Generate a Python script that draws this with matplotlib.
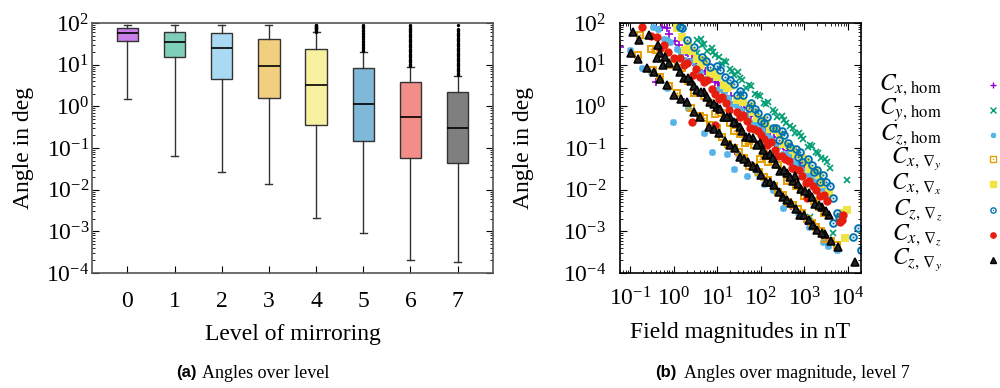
import numpy as np
import matplotlib
matplotlib.use('Agg')
import matplotlib.pyplot as plt
from matplotlib.lines import Line2D
from matplotlib.ticker import LogLocator, NullFormatter

plt.rcParams['font.family'] = 'serif'
plt.rcParams['font.serif'] = ['Liberation Serif', 'DejaVu Serif']
plt.rcParams['mathtext.fontset'] = 'stix'
plt.rcParams['font.size'] = 17

# (a) box statistics per level of mirroring
levels = [0, 1, 2, 3, 4, 5, 6, 7]
q1 = [37.6, 15.5, 4.6, 1.56, 0.36, 0.145, 0.056, 0.043]
med = [58.6, 35.6, 25.6, 9.1, 3.25, 1.16, 0.545, 0.31]
q3 = [77, 62, 56.5, 40.6, 24.2, 8.3, 3.77, 2.2]
whis_lo = [1.48, 0.064, 0.026, 0.0138, 0.00213, 0.00093, 0.0002, 0.00018]
whis_hi = [90, 90, 90, 90, 60, 20.5, 8.95, 5.45]
fliers = [
    [], [], [], [],
    [62, 64, 66, 68, 70, 72, 74, 76, 78, 80, 82, 84, 86, 88, 90],
    [21, 23, 25, 27, 29, 32, 35, 38, 41, 45, 49, 53, 58, 63, 68, 74, 80, 86, 90],
    [9.2, 9.9, 10.6, 11.4, 12.2, 13.1, 14, 15, 16.1, 17.3, 18.5, 19.8, 21.2, 22.7,
     24.3, 26, 27.9, 29.9, 32, 34.3, 36.7, 39.3, 42.1, 45.1, 48.3, 51.7, 55.4,
     59.3, 63.5, 68, 72.8, 78, 83.5, 89.4],
    [5.6, 6.0, 6.4, 6.9, 7.4, 7.9, 8.5, 9.1, 9.7, 10.4, 11.2, 12, 12.8, 13.7, 14.7,
     15.8, 16.9, 18.1, 19.4, 20.8, 22.3, 23.9, 25.6, 27.4, 29.4, 31.5, 33.7, 36.1,
     38.7, 41.5, 44.5, 47.7, 51.1, 54.7, 58.6, 62.8, 67.3, 72, 88],
]
box_colors = ['#c97fe9', '#7fceb9', '#aad9f4', '#f2cf7f', '#f7f1a0', '#7fb8d8', '#f28e87', '#7f7f7f']

# (b) angles over field magnitude, level 7
cxhom_b = [0.7, 0.8, 1.1, 1.6, 2.2, 3.2, 4.5, 6.3, 9, 12.5, 18, 25, 35, 50, 70, 100, 160, 250,
           400, 630, 1000, 1600, 0.058, 0.4, 4, 16, 63, 200, 500, 1250, 2200, 3200,
           0.55, 1.3, 1.9, 2.7, 3.8, 5.4, 7.5, 10.5, 15, 21, 30, 42, 60, 85, 130, 200, 320,
           500, 800, 1250, 1.5, 8, 30, 120, 330, 800]
cxhom_a = [75, 56, 36, 22, 19, 9.9, 8.5, 7.2, 3.9, 3.2, 2.8, 1.3, 1.14, 0.71, 0.6, 0.32, 0.24,
           0.113, 0.089, 0.04, 0.032, 0.014, 26, 3.8, 0.56, 0.126, 0.04, 0.0112, 0.004, 0.0015,
           0.00091, 0.00056,
           80, 30, 20, 14, 10.5, 7, 5, 3.6, 2.5, 1.8, 1.25, 0.9, 0.63, 0.45, 0.28, 0.18, 0.11,
           0.07, 0.043, 0.027, 1.5, 0.27, 0.07, 0.018, 0.0065, 0.0026]

cyhom_b = [3.4, 3.5, 4.2, 5, 6, 7.5, 9, 11, 13, 16, 20, 25, 30, 38, 47, 60, 75, 95, 120, 150,
           190, 240, 300, 380, 480, 600, 760, 950, 1200, 1500, 1900, 2400, 3000, 3800, 9500,
           1350, 4600,
           4.6, 8, 14, 22, 34, 53, 85, 135, 210, 340, 540, 850, 1350, 2100, 3400]
cyhom_a = [19, 40, 42, 32, 21, 25, 16.8, 15.1, 10.1, 11.4, 7.9, 5.6, 6.7, 4.2, 2.7, 3.0, 2.0,
           1.75, 1.18, 1.27, 0.83, 0.55, 0.58, 0.4, 0.33, 0.235, 0.234, 0.167, 0.105, 0.11,
           0.08, 0.059, 0.053, 0.033, 0.0167, 0.0022, 0.0009,
           30, 20, 12, 7.2, 4.8, 3.2, 1.9, 1.15, 0.75, 0.46, 0.3, 0.19, 0.12, 0.075, 0.045]

czhom_b = [0.33, 0.45, 0.6, 0.85, 1.2, 1.8, 2.6, 4, 6, 9, 14, 22, 35, 55, 85, 130, 200, 320,
           500, 800, 1250, 2000, 3200, 0.1, 0.19, 0.3, 0.7, 0.95, 2.2, 5.1, 7.5, 16.6, 24, 30,
           48, 80, 120, 190, 320, 400, 700, 1300, 2700, 3500, 5600,
           0.7, 1.5, 3.2, 11, 18, 28, 45, 70, 105, 165, 250, 400, 640, 1000, 1600, 2500]
czhom_a = [79, 70, 42, 35, 23.5, 13.3, 12.2, 6.6, 4.8, 2.5, 2.16, 1.14, 0.8, 0.44, 0.37, 0.2,
           0.14, 0.072, 0.06, 0.031, 0.022, 0.0112, 0.0062, 22, 8.3, 6.5, 2.75, 0.42, 0.9, 0.23,
           0.08, 0.072, 0.031, 0.07, 0.021, 0.025, 0.014, 0.01, 0.0036, 0.0049, 0.0028, 0.0013,
           0.00055, 0.00045, 0.00035,
           40, 19, 9, 2.6, 1.6, 1.0, 0.62, 0.4, 0.27, 0.17, 0.11, 0.07, 0.044, 0.028, 0.017, 0.011]

cxgy_b = [0.17, 0.3, 0.55, 1.6, 3, 5, 9, 15, 25, 43, 70, 95, 150, 245, 400, 650, 1000, 1700,
          2800, 0.15, 0.33, 1.23, 2.5, 5, 9.8, 18, 32, 55, 90, 150, 250, 420, 700, 1150, 1900,
          3000, 5600,
          0.4, 0.9, 2.2, 7, 12, 20, 34, 55, 120, 190, 300, 520, 820, 1300, 2200,
          0.5, 0.8, 4, 7, 13, 24, 42, 70, 120, 200, 330, 550, 900, 1500, 2400, 4200]
cxgy_a = [51, 23.6, 18, 8.3, 2.1, 1.78, 0.67, 0.53, 0.26, 0.13, 0.119, 0.053, 0.047, 0.039,
          0.0158, 0.0122, 0.0071, 0.0052, 0.0028, 17, 7.4, 2.1, 0.9, 0.53, 0.3, 0.124, 0.079,
          0.036, 0.027, 0.0175, 0.009, 0.005, 0.0034, 0.00195, 0.0013, 0.00067, 0.00047,
          22, 10, 4, 1.2, 0.7, 0.4, 0.22, 0.15, 0.07, 0.045, 0.028, 0.016, 0.01, 0.0062, 0.0038,
          5, 3.1, 0.6, 0.35, 0.18, 0.1, 0.058, 0.035, 0.02, 0.012, 0.0075, 0.0044, 0.0027,
          0.0016, 0.001, 0.0006]

cxgx_b = [1.2, 1.55, 1.8, 2.6, 3.5, 5, 7, 10, 14, 20, 28, 40, 56, 80, 110, 160, 220, 320, 450,
          640, 900, 1300, 1800, 2600, 3700, 6600, 7800, 9500, 8500,
          2.2, 4.2, 8.5, 17, 34, 68, 135, 270, 540, 1100, 2200]
cxgx_a = [76, 46, 22, 21.6, 13.7, 12.6, 6, 5.2, 3.2, 3.0, 1.42, 1.25, 1.0, 0.52, 0.48, 0.29,
          0.27, 0.124, 0.111, 0.07, 0.058, 0.031, 0.028, 0.0136, 0.0085, 0.0021, 0.00275,
          0.0033, 0.0007,
          30, 10, 6.5, 2.8, 1.5, 0.75, 0.38, 0.2, 0.09, 0.045, 0.022]

czgz_b = [1.37, 1.6, 3.0, 4.4, 7, 10, 11.4, 19.4, 25, 28, 40, 55, 60, 75, 100, 120, 140, 190,
          260, 300, 350, 480, 650, 700, 900, 1200, 1700, 2000, 2300, 3200, 4500, 5600, 6300,
          4600, 17000, 13000, 20000,
          2, 5.5, 15, 33, 85, 220, 420, 800, 1500, 2700, 3800]
czgz_a = [80, 76, 26.5, 15.3, 8.6, 9.5, 7.4, 4.3, 3.5, 1.9, 1.9, 0.91, 1.2, 0.88, 0.45, 0.4,
          0.57, 0.3, 0.153, 0.25, 0.2, 0.104, 0.093, 0.06, 0.046, 0.053, 0.026, 0.03, 0.0154,
          0.0157, 0.0063, 0.0028, 0.0022, 0.0016, 0.0012, 0.00074, 0.00036,
          40, 12, 5, 2.3, 0.7, 0.3, 0.13, 0.08, 0.04, 0.022, 0.012]

cxgz_b = [0.19, 0.3, 0.41, 0.48, 0.73, 1.05, 1.37, 2, 2.8, 3.3, 4, 6, 9, 11, 13, 19, 28, 40,
          48, 58, 85, 120, 140, 170, 250, 360, 440, 520, 750, 1100, 1300, 1600, 2300, 2800,
          3300, 1150, 6600, 7200, 7800, 2.6, 8.8,
          0.6, 1.7, 5, 7.5, 16, 34, 70, 100, 210, 300, 620, 900, 1900]
cxgz_a = [80, 50, 46, 25, 20, 14.4, 14.4, 11.2, 5.7, 8, 5.0, 4.4, 2.0, 1.5, 1.72, 0.83, 0.75,
          0.63, 0.45, 0.31, 0.26, 0.16, 0.12, 0.14, 0.066, 0.055, 0.05, 0.034, 0.03, 0.0144,
          0.016, 0.0125, 0.0072, 0.0075, 0.0054, 0.0063, 0.00166, 0.0019, 0.0024, 0.42, 0.35,
          30, 10, 3.8, 2.6, 1.2, 0.55, 0.28, 0.2, 0.09, 0.065, 0.032, 0.021, 0.0098]

czgy_b = [0.115, 0.165, 0.28, 0.43, 0.48, 0.41, 0.56, 0.8, 1.2, 1.7, 2.5, 3, 3.5, 5, 7, 9.7,
          14, 20, 27, 33, 45, 65, 95, 130, 160, 190, 280, 400, 550, 600, 850, 1250, 1500, 1800,
          2600, 3700, 0.108, 0.24, 1.0, 1.5, 2, 4, 6.5, 11, 19.4, 26, 33, 52, 80, 130, 160, 200,
          320, 500, 800, 1000, 1300, 2000, 3000, 5900, 14500,
          0.65, 1.4, 2.1, 4.2, 6, 8.3, 11.5, 17, 24, 38, 55, 80, 110, 230, 340, 480, 720, 1050,
          2200, 3100,
          0.15, 0.35, 0.5, 0.7, 3, 8.5, 15, 42, 65, 100, 260, 400, 650, 1600, 2500, 4000]
czgy_a = [60, 39, 52, 30, 19, 14.4, 9.8, 11.1, 9.4, 4.7, 4.0, 3.0, 2.4, 2.2, 1.27, 0.96, 0.57,
          0.56, 0.4, 0.32, 0.185, 0.17, 0.13, 0.069, 0.07, 0.059, 0.028, 0.025, 0.016, 0.021,
          0.0105, 0.0084, 0.0065, 0.0046, 0.0038, 0.0024, 19, 8.3, 1.9, 1.5, 1.27, 0.55, 0.32,
          0.23, 0.118, 0.1, 0.06, 0.046, 0.033, 0.0153, 0.015, 0.0126, 0.0067, 0.0048, 0.0025,
          0.0024, 0.0019, 0.0011, 0.00088, 0.00042, 0.00018,
          15, 6.5, 4.8, 2.2, 1.7, 1.15, 0.85, 0.55, 0.42, 0.26, 0.18, 0.12, 0.09, 0.042, 0.029,
          0.02, 0.014, 0.0095, 0.0044, 0.003,
          14, 6.5, 4.5, 3.2, 0.75, 0.28, 0.15, 0.055, 0.036, 0.023, 0.009, 0.0058, 0.0035,
          0.0014, 0.0009, 0.00058]

series_labels = [r'$C_{x,\,\mathrm{hom}}$', r'$C_{y,\,\mathrm{hom}}$', r'$C_{z,\,\mathrm{hom}}$',
                 r'$C_{x,\,\nabla_y}$', r'$C_{x,\,\nabla_x}$', r'$C_{z,\,\nabla_z}$',
                 r'$C_{x,\,\nabla_z}$', r'$C_{z,\,\nabla_y}$']
series_data = [(cxhom_b, cxhom_a), (cyhom_b, cyhom_a), (czhom_b, czhom_a), (cxgy_b, cxgy_a),
               (cxgx_b, cxgx_a), (czgz_b, czgz_a), (cxgz_b, cxgz_a), (czgy_b, czgy_a)]
# marker style per series (gnuplot-like point types)
styles = [
    dict(marker='+', color='#9400d3', mew=1.2, ms=5.5, center=False),
    dict(marker='x', color='#009e73', mew=1.2, ms=4.8, center=False),
    dict(marker=(8, 2, 0), color='#56b4e9', mew=1.2, ms=5, center=False),
    dict(marker='s', color='#e69f00', mew=1.4, ms=4.8, mfc='none', center=True),
    dict(marker='s', color='#f0e442', mew=0, ms=5.3, center=False),
    dict(marker='o', color='#0072b2', mew=1.4, ms=4.8, mfc='none', center=True),
    dict(marker='o', color='#e51e10', mew=0, ms=6, center=False),
    dict(marker='^', color='black', mew=1.1, ms=5.5, mfc='#222222', center=False),
]

fig = plt.figure(figsize=(10, 3.88), dpi=100)
ax1 = fig.add_axes([0.092, 0.2964, 0.401, 0.6443])
ax2 = fig.add_axes([0.620, 0.2964, 0.241, 0.6443])

# ---- (a) box plot
stats = []
for i in range(len(levels)):
    stats.append(dict(med=med[i], q1=q1[i], q3=q3[i], whislo=whis_lo[i],
                      whishi=whis_hi[i], fliers=fliers[i]))
bp = ax1.bxp(stats, positions=levels, widths=0.45, capwidths=0.15, patch_artist=True,
             boxprops=dict(edgecolor='#333333', linewidth=1.0),
             medianprops=dict(color='black', linewidth=1.2),
             whiskerprops=dict(color='#333333', linewidth=1.0),
             capprops=dict(color='#333333', linewidth=1.0),
             flierprops=dict(marker='o', markersize=2.4, markerfacecolor='black',
                             markeredgecolor='black', markeredgewidth=0))
for patch, c in zip(bp['boxes'], box_colors):
    patch.set_facecolor(c)

ax1.set_yscale('log')
ax1.set_ylim(1e-4, 1e2)
ax1.set_xlim(-0.75, 7.75)
ax1.set_xticks(levels)
ax1.set_xticklabels([str(l) for l in levels])
ax1.yaxis.set_major_locator(LogLocator(base=10, numticks=20))
ax1.yaxis.set_minor_locator(LogLocator(base=10, subs=np.arange(2, 10) * 1.0, numticks=20))
ax1.yaxis.set_minor_formatter(NullFormatter())
ax1.tick_params(axis='y', which='both', direction='in', left=True, right=True, pad=2)
ax1.tick_params(axis='y', which='major', length=5)
ax1.tick_params(axis='y', which='minor', length=2.5)
ax1.tick_params(axis='x', direction='in', top=False, length=5, pad=13)
for sp in ax1.spines.values():
    sp.set_color('#555555')
    sp.set_linewidth(1.2)
ax1.set_ylabel('Angle in deg', va='center')
ax1.yaxis.set_label_coords(-0.17, 0.5)
ax1.set_xlabel('Level of mirroring', va='center')
ax1.xaxis.set_label_coords(0.5, -0.248)

# ---- (b) scatter
for (bx, ang), st in zip(series_data, styles):
    ax2.plot(bx, ang, linestyle='none', marker=st['marker'], color=st['color'],
             markeredgewidth=st['mew'], markersize=st['ms'],
             markerfacecolor=st.get('mfc', st['color']), markeredgecolor=st['color'])
    if st['center']:
        ax2.plot(bx, ang, linestyle='none', marker='o', color=st['color'],
                 markersize=1.5, markeredgewidth=0)

ax2.set_xscale('log')
ax2.set_yscale('log')
ax2.set_xlim(0.059, 2.0e4)
ax2.set_ylim(1e-4, 1e2)
for axis in (ax2.xaxis, ax2.yaxis):
    axis.set_major_locator(LogLocator(base=10, numticks=20))
    axis.set_minor_locator(LogLocator(base=10, subs=np.arange(2, 10) * 1.0, numticks=20))
    axis.set_minor_formatter(NullFormatter())
ax2.tick_params(which='both', direction='in', top=True, right=True)
ax2.tick_params(which='major', length=5)
ax2.tick_params(which='minor', length=2.5)
ax2.tick_params(axis='y', pad=10)
ax2.tick_params(axis='x', pad=10)
for sp in ax2.spines.values():
    sp.set_linewidth(1.2)
ax2.set_ylabel('Angle in deg', va='center')
ax2.yaxis.set_label_coords(-0.402, 0.5)
ax2.set_xlabel('Field magnitudes in nT', va='center')
ax2.xaxis.set_label_coords(0.5, -0.24)

# ---- legend on the right (labels right aligned, marker after)
row_y = [85, 110, 135, 159, 184, 210, 235, 260]
for lab, st, yp in zip(series_labels, styles, row_y):
    yf = 1 - yp / 388
    fig.text(0.942, yf, lab, ha='right', va='center', fontsize=17)
    fig.add_artist(Line2D([0.993], [yf], transform=fig.transFigure, linestyle='none',
                          marker=st['marker'], color=st['color'],
                          markeredgewidth=1.0, markersize=3.8,
                          markerfacecolor=st.get('mfc', st['color']),
                          markeredgecolor=st['color']))
    if st['center']:
        fig.add_artist(Line2D([0.993], [yf], transform=fig.transFigure, linestyle='none',
                              marker='o', color=st['color'], markersize=1.0,
                              markeredgewidth=0))

# ---- captions
cap_y = 1 - 373 / 388
fig.text(0.176, cap_y, '(a)', family='Liberation Sans', weight='bold', fontsize=12, va='center')
fig.text(0.202, cap_y, 'Angles over level', fontsize=13, va='center')
fig.text(0.655, cap_y, '(b)', family='Liberation Sans', weight='bold', fontsize=12, va='center')
fig.text(0.684, cap_y, 'Angles over magnitude, level 7', fontsize=13, va='center')

fig.savefig('out.png', dpi=100)
